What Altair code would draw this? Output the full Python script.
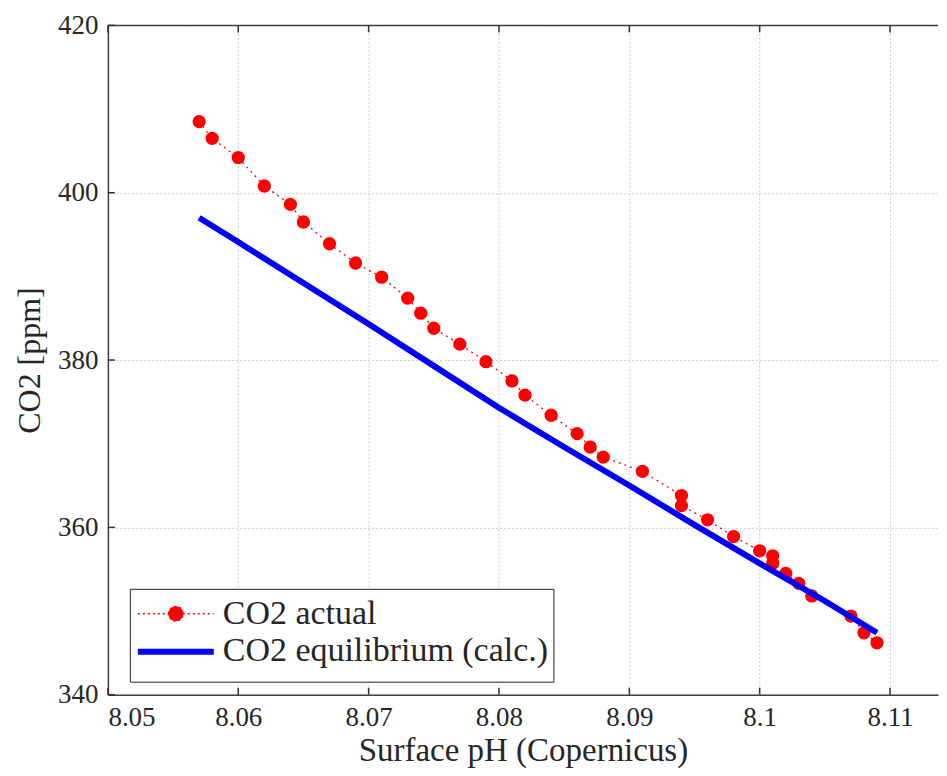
import altair as alt
import pandas as pd

# ---- data ----
ph_actual = [8.057, 8.058, 8.060, 8.062, 8.064, 8.065, 8.067, 8.069, 8.071, 8.073,
             8.074, 8.075, 8.077, 8.079, 8.081, 8.082, 8.084, 8.086, 8.087, 8.088,
             8.091, 8.094, 8.094, 8.096, 8.098, 8.100, 8.101, 8.101, 8.102, 8.103,
             8.104, 8.107, 8.108, 8.109]
co2_actual = [408.5, 406.5, 404.2, 400.8, 398.6, 396.5, 393.9, 391.6, 389.9, 387.4,
              385.6, 383.8, 381.9, 379.8, 377.5, 375.8, 373.4, 371.2, 369.6, 368.4,
              366.7, 363.8, 362.6, 360.9, 358.9, 357.2, 356.6, 355.7, 354.5, 353.3,
              351.8, 349.4, 347.4, 346.2]
ph_eq = [8.057, 8.060, 8.065, 8.070, 8.075, 8.080, 8.085, 8.090, 8.095, 8.100, 8.105, 8.109]
co2_eq = [397.0, 394.1, 389.2, 384.3, 379.3, 374.3, 369.6, 365.0, 360.3, 355.7, 351.2, 347.4]
series_names = ["CO2 actual", "CO2 equilibrium (calc.)"]
x_ticks = [8.05, 8.06, 8.07, 8.08, 8.09, 8.10, 8.11]
y_ticks = [340, 360, 380, 400, 420]
x_domain = [8.05, 8.11368]
y_domain = [340, 420]

RED = "#ff0000"
BLUE = "#0000ff"
FONT = "Liberation Serif"
TXT = "#262626"
FRAME = "#404040"
W, H = 831, 670

actual = pd.DataFrame({"ph": ph_actual, "co2": co2_actual,
                       "series": series_names[0], "idx": list(range(len(ph_actual)))})
eq = pd.DataFrame({"ph": ph_eq, "co2": co2_eq, "series": series_names[1]})
xt = pd.DataFrame({"ph": x_ticks})
yt = pd.DataFrame({"co2": y_ticks})
frame = pd.DataFrame({"ph": [x_domain[0]], "ph_end": [x_domain[1]]})

xs = alt.Scale(domain=x_domain, nice=False, zero=False)
ys = alt.Scale(domain=y_domain, nice=False, zero=False)

x_axis = alt.Axis(orient="bottom", values=x_ticks, format="~g",
                  title="Surface pH (Copernicus)", labelPadding=10,
                  titlePadding=4, grid=True, ticks=False, titleFontSize=33)
y_axis = alt.Axis(orient="left", values=y_ticks, format="d", title="CO2 [ppm]",
                  labelPadding=10, titlePadding=11, grid=True, ticks=False, titleFontSize=32)
X = alt.X("ph:Q", scale=xs, axis=x_axis)
Y = alt.Y("co2:Q", scale=ys, axis=y_axis)

PATH_R = "M-2,0L2,0M-0.39,0A0.39,0.39,0,1,1,0.39,0A0.39,0.39,0,1,1,-0.39,0Z"
PATH_B = "M-2,0L2,0"

leg_common = dict(orient="none", direction="vertical", symbolSize=1444,
                  labelFont=FONT, labelFontSize=34, labelColor=TXT, labelLimit=600,
                  padding=5, rowPadding=0, legendX=22)
legend_actual = alt.Legend(legendY=564, title=" ", titleOrient="bottom", titleFontSize=9,
                           titlePadding=0, symbolType=PATH_R, symbolStrokeColor=RED,
                           symbolFillColor=RED, symbolStrokeWidth=1.3, symbolDash=[2, 3],
                           symbolOffset=21, labelOffset=27, strokeColor="#222222",
                           fillColor="white", **leg_common)
legend_eq = alt.Legend(legendY=600, title=None, symbolType=PATH_B, symbolStrokeWidth=6,
                       symbolOffset=19, labelOffset=23, labelExpr="''", **leg_common)

red_line = alt.Chart(actual).mark_line(color=RED, strokeWidth=1.3, strokeDash=[2, 4]).encode(
    x=X, y=Y, order="idx:Q")
red_pts = alt.Chart(actual).mark_point(filled=True, size=177, strokeWidth=0).encode(
    x=X, y=Y,
    color=alt.Color("series:N", scale=alt.Scale(domain=series_names, range=[RED, BLUE]),
                    legend=legend_actual),
    opacity=alt.Opacity("series:N", scale=alt.Scale(domain=series_names, range=[1, 0]),
                        legend=legend_actual))
blue_line = alt.Chart(eq).mark_line(strokeWidth=6, strokeCap="butt").encode(
    x=X, y=Y,
    color=alt.Color("series:N", scale=alt.Scale(domain=[series_names[1]], range=[BLUE]),
                    legend=legend_eq))
top_border = alt.Chart(frame).mark_rule(color=FRAME, strokeWidth=1.5).encode(
    x=X, x2="ph_end:Q", y=alt.value(0))
tick_b = alt.Chart(xt).mark_rule(color="#333333", strokeWidth=1.5).encode(
    x=X, y=alt.value(H), y2=alt.value(H - 7))
tick_t = alt.Chart(xt).mark_rule(color="#333333", strokeWidth=1.5).encode(
    x=X, y=alt.value(0), y2=alt.value(7))
tick_l = alt.Chart(yt).mark_rule(color="#333333", strokeWidth=1.5).encode(
    y=Y, x=alt.value(0), x2=alt.value(7))

chart = alt.layer(red_line, red_pts, blue_line, top_border, tick_b, tick_t, tick_l).resolve_scale(
    color="independent", opacity="independent"
).resolve_legend(
    color="independent", opacity="independent"
).properties(
    width=W, height=H, padding={"left": 5, "top": 3, "right": 0, "bottom": 0}
).configure_view(stroke=None).configure_axis(
    domainColor=FRAME, domainWidth=1.5,
    labelFont=FONT, labelFontSize=27, labelColor=TXT,
    titleFont=FONT, titleFontWeight="normal", titleColor=TXT,
    gridColor="#cccccc", gridDash=[2, 2], gridWidth=1)

chart.save("out.html", embed_options={"renderer": "svg", "actions": False})
